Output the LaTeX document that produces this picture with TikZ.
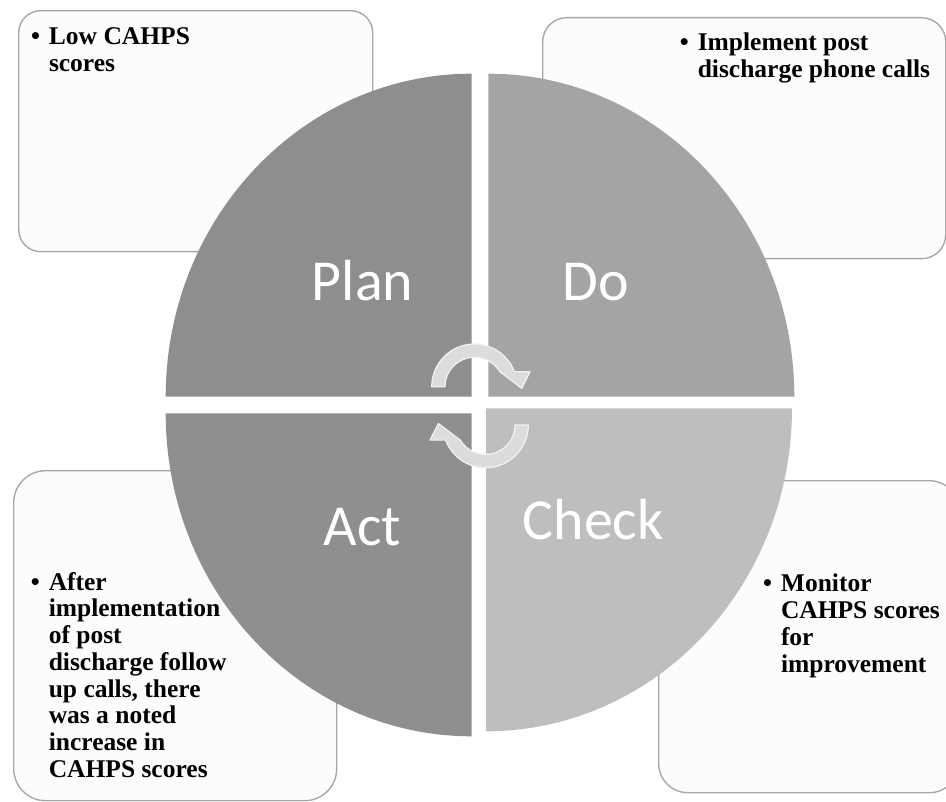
\documentclass[tikz,border=0pt]{standalone}
\usepackage{fontspec}
\usepackage{xcolor}
\usepackage{tikz}
\usetikzlibrary{positioning}
\newfontfamily\cyclefont{Carlito}
\newfontfamily\notefont{Liberation Serif}
\definecolor{planfill}{HTML}{8E8E8E}
\definecolor{dofill}{HTML}{A4A4A4}
\definecolor{checkfill}{HTML}{BEBEBE}
\definecolor{actfill}{HTML}{8F8F8F}
\definecolor{boxedge}{HTML}{A8A8A8}
\definecolor{boxfill}{HTML}{FCFCFC}
\definecolor{turnfill}{HTML}{DCDCDC}
\definecolor{turnedge}{HTML}{F2F2F2}
\newlength{\bulletgap}
\setlength{\bulletgap}{18pt}
% bullet in its own column, wrapped lines hang under the text
\newcommand{\notelines}[1]{\begin{tabular}[t]{@{}p{\bulletgap}@{}l@{}}#1\end{tabular}}
\tikzset{
  notebox/.style={draw=boxedge, fill=boxfill, line width=1.4pt, anchor=north west, inner sep=0pt},
  notetext/.style={font=\notefont\bfseries\fontsize{25.5}{26.8}\selectfont, anchor=base west, inner sep=0pt},
  phaselabel/.style={font=\cyclefont\fontsize{58}{60}\selectfont, text=white, anchor=base, inner sep=0pt},
  turnarrow/.pic={
    \filldraw[fill=turnfill, draw=turnedge, line width=1.2pt, line join=round]
      (-42.7,0) arc[start angle=180, end angle=339.4, radius=42.7]
      -- (55.6,-15) -- (47.3,1.6) -- (25.3,-15)
      arc[start angle=329.3, end angle=180, radius=29.4] -- cycle;
  }
}

\begin{document}
\begin{tikzpicture}[x=1pt, y=-1pt]
  \useasboundingbox (0,0) rectangle (946,802);

  % note boxes behind the wheel
  \node[notebox, rounded corners=22pt, minimum width=354pt, minimum height=241pt] (planbox) at (18,10) {};
  \node[notebox, rounded corners=24pt, minimum width=403pt, minimum height=241pt] (dobox) at (542,17) {};
  \node[notebox, rounded corners=32pt, minimum width=323pt, minimum height=330pt] (actbox) at (13,470) {};
  \node[notebox, rounded corners=29pt, minimum width=300pt, minimum height=312pt] (checkbox) at (658,480) {};

  \node[notetext] (plannote) at (30.8,45) {\notelines{• & Low CAHPS\\ & scores}};
  \node[notetext] (donote) at (679.6,51) {\notelines{• & Implement post\\ & discharge phone calls}};
  \node[notetext] (actnote) at (30.6,590) {\notelines{• & After\\ & implementation\\ & of post\\ & discharge follow\\ & up calls, there\\ & was a noted\\ & increase in\\ & CAHPS scores}};
  \node[notetext] (checknote) at (762.8,591.7) {\notelines{• & Monitor\\ & CAHPS scores\\ & for\\ & improvement}};

  % the four quarters of the wheel
  \fill[planfill] (471.7,396.7) -- (165.7,396.7) arc[start angle=180, end angle=270, x radius=306, y radius=323] -- cycle;
  \fill[dofill] (488.3,396.7) -- (488.3,73.7) arc[start angle=270, end angle=360, x radius=306, y radius=323] -- cycle;
  \fill[checkfill] (486,408.3) -- (792,408.3) arc[start angle=0, end angle=90, x radius=306, y radius=323] -- cycle;
  \fill[actfill] (471.7,413.3) -- (471.7,736.3) arc[start angle=90, end angle=180, x radius=306, y radius=323] -- cycle;

  \node[phaselabel] (plan) at (362.5,301) {Plan};
  \node[phaselabel] (do) at (596,301) {Do};
  \node[phaselabel] (act) at (362.5,545.7) {Act};
  \node[phaselabel] (check) at (593.3,539) {Check};

  % turning arrows in the middle
  \pic at (474.4,386.7) {turnarrow};
  \pic[rotate=180] at (485.6,425.1) {turnarrow};
\end{tikzpicture}
\end{document}
